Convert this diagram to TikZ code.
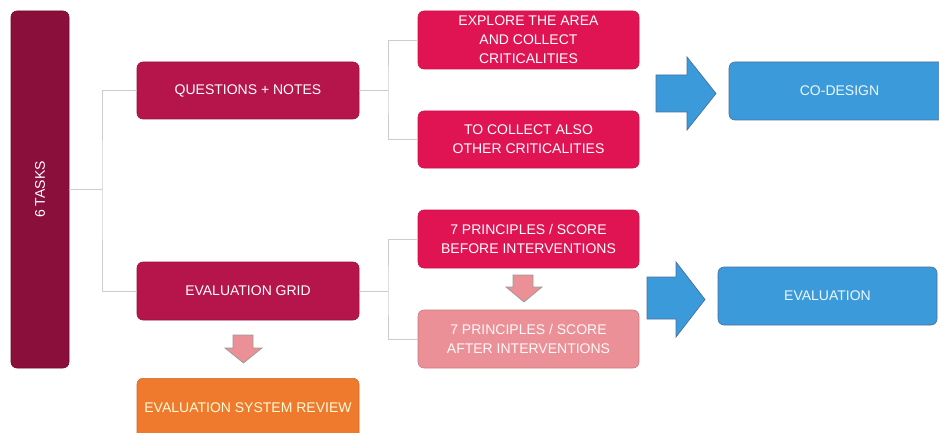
\documentclass[tikz,border=0pt]{standalone}
\usepackage{fontspec}
\setmainfont{Liberation Sans}
\begin{document}
\begin{tikzpicture}[x=1pt,y=-1pt,
  box/.style={rounded corners=6pt, inner sep=0pt, align=center, text=white,
    font=\fontsize{14}{19}\selectfont, line width=0.6pt},
  tasksbox/.style={box, fill=tasksc, draw=tasksc!80!black},
  midbox/.style={box, fill=midc, draw=midc!85!black},
  brightbox/.style={box, fill=brightc, draw=brightc!90!black},
  palebox/.style={box, fill=palec, draw=palec!85!black, text=white!95!palec},
  bluebox/.style={box, fill=bluec, draw=bluebd, text=white!92!bluec},
  orangebox/.style={box, fill=orangec, draw=orangec!85!black, text=white!85!yellow},
  link/.style={draw=linkc, line width=0.9pt},
  bigarrow/.style={fill=bluec, draw=bluebd, line width=0.7pt, line join=miter},
  smallarrow/.style={fill=palec, draw=gray!80, line width=0.7pt, line join=miter}
]
\definecolor{tasksc}{HTML}{8B0F3B}
\definecolor{midc}{HTML}{B5154A}
\definecolor{brightc}{HTML}{E01453}
\definecolor{palec}{HTML}{EB9097}
\definecolor{bluec}{HTML}{3B9BDA}
\definecolor{bluebd}{HTML}{4A6E9C}
\definecolor{orangec}{HTML}{EF7A2D}
\definecolor{linkc}{HTML}{CCCCCC}

\useasboundingbox (0,0) rectangle (939,433);
\clip (0,0) rectangle (939,433);

% main boxes
\node[tasksbox, minimum width=58pt, minimum height=357pt] (tasks) at (40,189.5) {};
\node[rotate=90, text=white, font=\fontsize{14}{16}\selectfont] (taskslabel) at (tasks.center) {6 TASKS};

\node[midbox, minimum width=222pt, minimum height=57pt] (qn) at (248,90.5) {QUESTIONS + NOTES};
\node[midbox, minimum width=222pt, minimum height=58pt] (eg) at (248,291) {EVALUATION GRID};
\node[orangebox, minimum width=222pt, minimum height=62pt, anchor=north] (esr) at (248,378) {};
\node[text=white!85!yellow, font=\fontsize{14}{16}\selectfont, inner sep=0pt] (esrlabel) at (248,408) {EVALUATION SYSTEM REVIEW};

\node[brightbox, minimum width=221pt, minimum height=58pt] (explore) at (528.5,40) {EXPLORE THE AREA\\AND COLLECT\\CRITICALITIES};
\node[brightbox, minimum width=221pt, minimum height=57pt] (collect) at (528.5,139.5) {TO COLLECT ALSO\\OTHER CRITICALITIES};
\node[brightbox, minimum width=221pt, minimum height=58pt] (before) at (528.5,239) {7 PRINCIPLES / SCORE\\BEFORE INTERVENTIONS};
\node[palebox, minimum width=221pt, minimum height=58pt] (after) at (528.5,339) {7 PRINCIPLES / SCORE\\AFTER INTERVENTIONS};

\node[bluebox, minimum width=221pt, minimum height=58pt] (codesign) at (839.5,91) {CO-DESIGN};
\node[bluebox, minimum width=219pt, minimum height=58pt] (evaluation) at (827.5,296) {EVALUATION};

% tree connectors
\coordinate (j1) at (102,189.5);
\coordinate (j2) at (388,90.5);
\coordinate (j3) at (388,291);
\draw[link] (tasks.east) -- (j1);
\draw[link] (qn.west) -| (j1) |- (eg.west);
\draw[link] (qn.east) -- (j2);
\draw[link] (explore.west) -| (j2) |- (collect.west);
\draw[link] (eg.east) -- (j3);
\draw[link] (before.west) -| (j3) |- (after.west);

% big blue arrows
\draw[bigarrow] (656,75) -- (687,75) -- (687,57) -- (716,93.5) -- (687,130) -- (687,112) -- (656,112) -- cycle;
\draw[bigarrow] (647,277) -- (676,277) -- (676,262) -- (705,299.5) -- (676,337) -- (676,319) -- (647,319) -- cycle;

% small pink arrows
\draw[smallarrow] (233,335) -- (253,335) -- (253,348) -- (262,348) -- (243.5,363) -- (225,348) -- (233,348) -- cycle;
\draw[smallarrow] (513,275) -- (533,275) -- (533,287) -- (542,287) -- (524,302) -- (506,287) -- (513,287) -- cycle;
\end{tikzpicture}
\end{document}
